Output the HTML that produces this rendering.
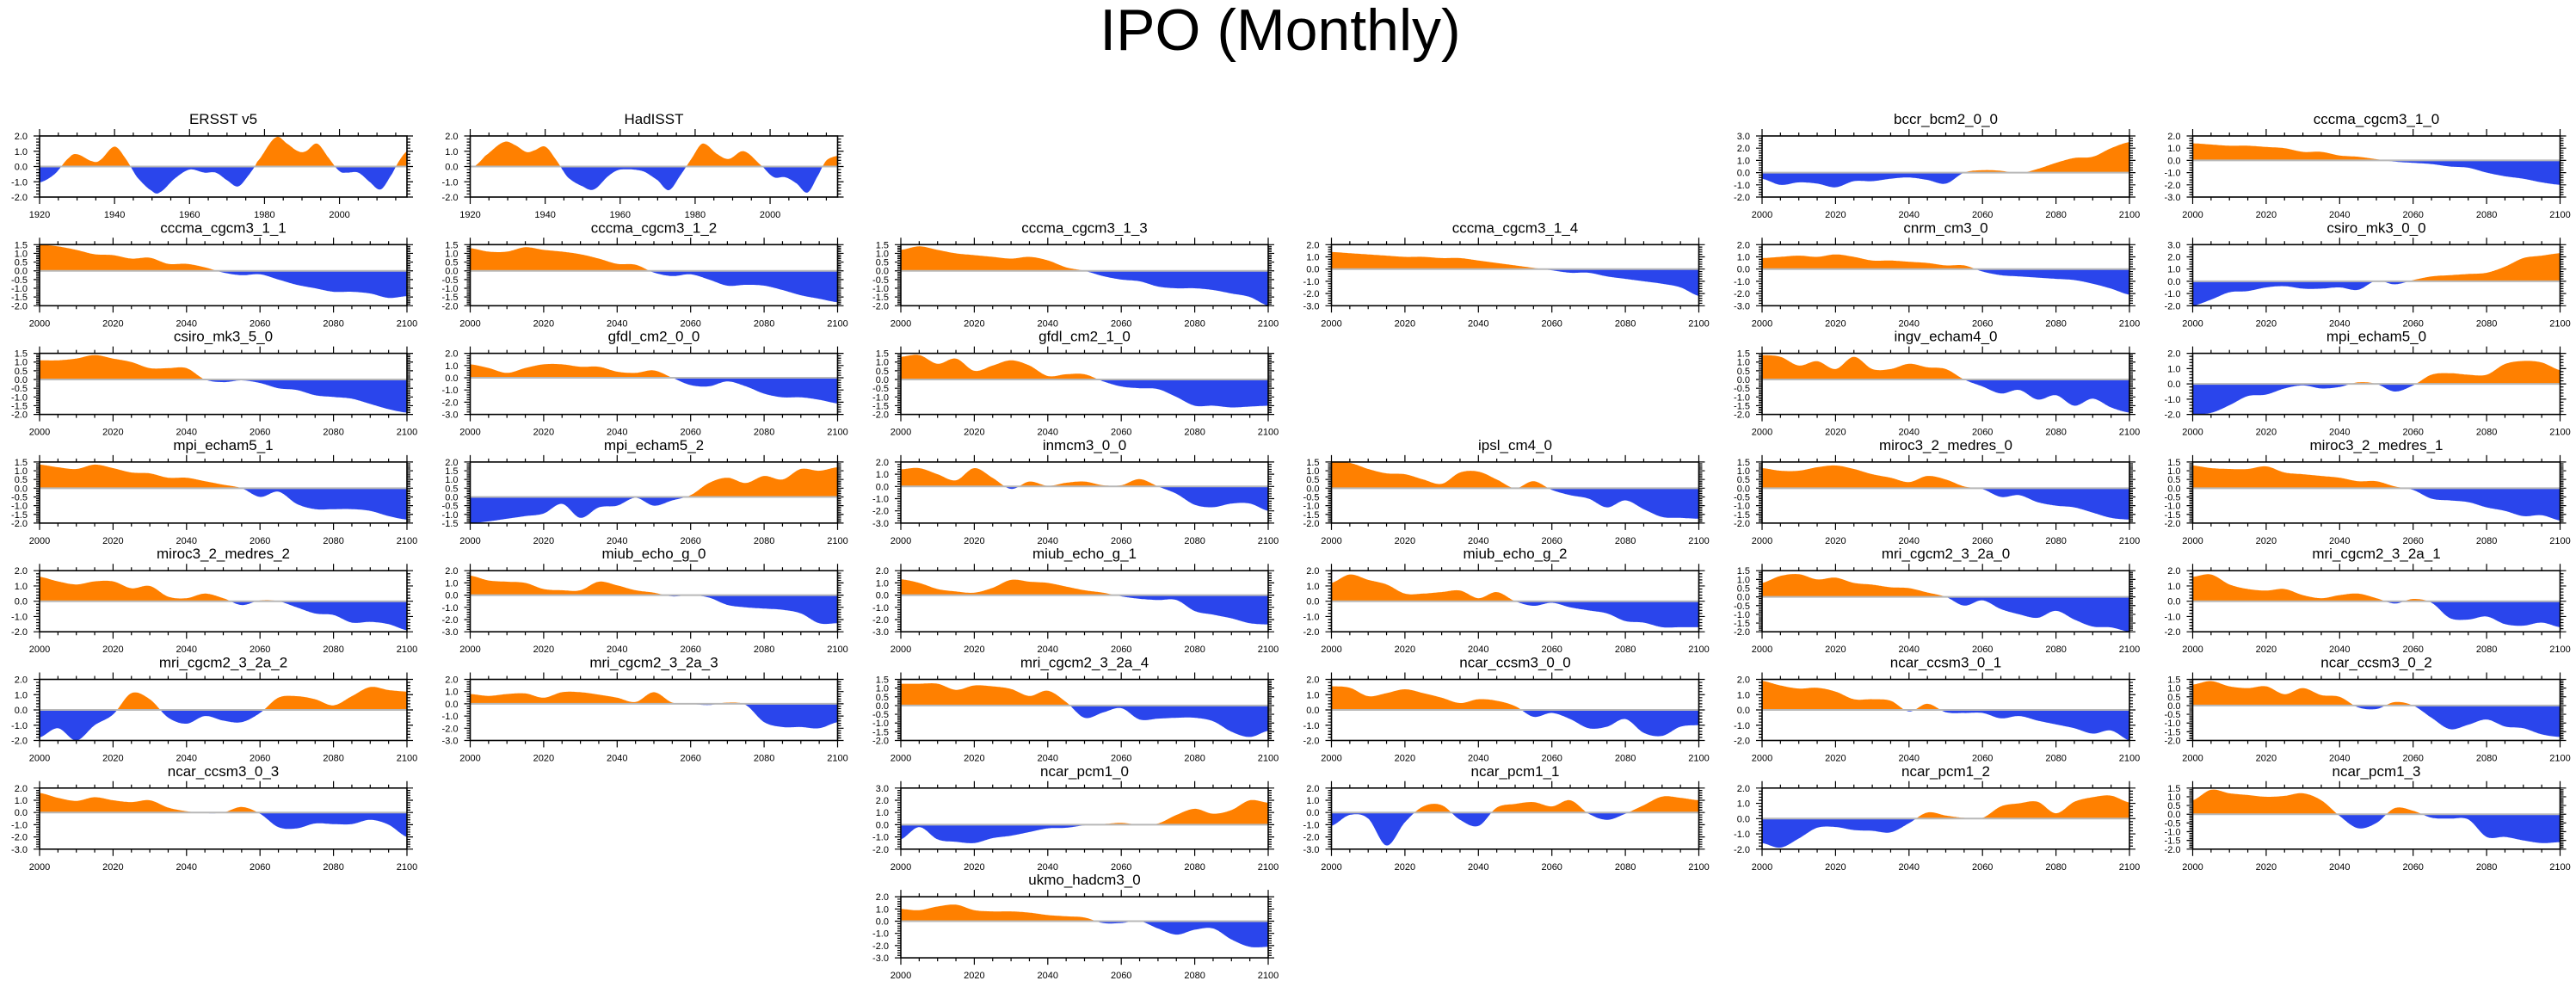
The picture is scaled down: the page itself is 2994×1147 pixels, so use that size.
<!DOCTYPE html>
<html><head><meta charset="utf-8"><title>IPO (Monthly)</title>
<style>
html,body{margin:0;padding:0;background:#fff;}
svg{display:block;}
text{font-family:"Liberation Sans",Arial,sans-serif;fill:#000;}
</style></head>
<body>
<svg id="chart" width="2994" height="1147" viewBox="0 0 2994 1147" xmlns="http://www.w3.org/2000/svg">
<rect x="0" y="0" width="2994" height="1147" fill="#fff"/>
<text x="1488" y="58" font-size="68" text-anchor="middle">IPO (Monthly)</text>
</svg>
<script>
const YEARS = [2000,2005,2010,2015,2020,2025,2030,2035,2040,2045,2050,2055,2060,2065,2070,2075,2080,2085,2090,2095,2100];
const ERSST_YEARS = [1920,1924,1928,1930,1934,1936,1940,1943,1946,1950,1952,1956,1960,1964,1967,1970,1973,1976,1978,1983,1986,1989,1991,1994,1997,2000,2002,2005,2008,2011,2014,2016,2018];
const ERSST_VALUES = [-1.05,-0.5,0.6,0.8,0.35,0.4,1.3,0.5,-0.7,-1.6,-1.7,-0.8,-0.2,-0.4,-0.4,-0.9,-1.3,-0.5,0.3,1.9,1.5,1.0,1.0,1.5,0.6,-0.3,-0.4,-0.4,-1.0,-1.5,-0.5,0.4,1.0];
const HADISST_YEARS = [1921,1924,1929,1932,1935,1937,1940,1943,1946,1950,1953,1957,1960,1966,1970,1973,1976,1979,1982,1986,1989,1993,1998,2001,2004,2007,2010,2013,2015,2018];
const HADISST_VALUES = [0.0,0.7,1.6,1.4,0.95,1.05,1.3,0.4,-0.7,-1.3,-1.5,-0.6,-0.2,-0.3,-0.9,-1.55,-0.6,0.5,1.5,0.8,0.5,1.0,0.0,-0.7,-0.7,-1.1,-1.7,-0.5,0.4,0.7];
const v_bccr_bcm2_0_0 = [-0.5,-1.0,-0.8,-0.9,-1.2,-0.7,-0.7,-0.5,-0.4,-0.6,-0.9,0.0,0.2,0.15,-0.05,0.3,0.8,1.2,1.3,2.0,2.5];
const v_cccma_cgcm3_1_0 = [1.4,1.3,1.2,1.2,1.1,1.0,0.7,0.7,0.4,0.3,0.1,-0.1,-0.2,-0.3,-0.5,-0.6,-1.0,-1.3,-1.5,-1.8,-2.0];
const v_cccma_cgcm3_1_1 = [1.5,1.4,1.2,0.95,0.9,0.7,0.75,0.4,0.4,0.2,-0.1,-0.25,-0.2,-0.5,-0.8,-1.0,-1.2,-1.2,-1.3,-1.55,-1.45];
const v_cccma_cgcm3_1_2 = [1.3,1.1,1.1,1.35,1.2,1.1,0.95,0.7,0.4,0.35,-0.1,-0.3,-0.2,-0.5,-0.85,-0.8,-0.85,-1.1,-1.4,-1.6,-1.8];
const v_cccma_cgcm3_1_3 = [1.2,1.4,1.2,1.0,0.9,0.8,0.7,0.8,0.6,0.2,0.0,-0.3,-0.5,-0.6,-0.9,-1.0,-1.0,-1.1,-1.3,-1.5,-2.0];
const v_cccma_cgcm3_1_4 = [1.4,1.3,1.2,1.1,1.0,1.0,0.9,0.9,0.7,0.5,0.3,0.1,-0.1,-0.3,-0.3,-0.6,-0.8,-1.0,-1.2,-1.5,-2.2];
const v_cnrm_cm3_0 = [0.9,1.0,1.1,1.0,1.2,1.0,0.7,0.7,0.6,0.5,0.3,0.3,-0.2,-0.5,-0.6,-0.7,-0.8,-0.9,-1.2,-1.6,-2.1];
const v_csiro_mk3_0_0 = [-2.0,-1.5,-0.9,-0.8,-0.5,-0.4,-0.6,-0.6,-0.5,-0.7,0.05,-0.25,0.1,0.4,0.5,0.6,0.7,1.2,1.9,2.1,2.3];
const v_csiro_mk3_5_0 = [1.1,1.1,1.2,1.4,1.2,1.0,0.65,0.65,0.65,0.0,-0.15,-0.05,-0.2,-0.5,-0.6,-0.9,-1.0,-1.1,-1.4,-1.7,-1.9];
const v_gfdl_cm2_0_0 = [1.1,0.8,0.4,0.8,1.1,1.1,0.9,0.9,0.5,0.4,0.6,0.0,-0.6,-0.7,-0.3,-0.7,-1.3,-1.6,-1.6,-1.8,-2.1];
const v_gfdl_cm2_1_0 = [1.3,1.4,0.9,1.2,0.5,0.8,1.1,0.8,0.2,0.3,0.3,-0.1,-0.4,-0.5,-0.55,-1.0,-1.5,-1.5,-1.6,-1.55,-1.5];
const v_ingv_echam4_0 = [1.4,1.3,0.8,1.05,0.6,1.3,0.6,0.6,0.9,0.7,0.6,0.0,-0.4,-0.8,-0.6,-1.15,-0.9,-1.5,-1.1,-1.6,-1.9];
const v_mpi_echam5_0 = [-2.0,-1.9,-1.4,-0.8,-0.7,-0.3,-0.1,-0.3,-0.2,0.1,0.0,-0.5,-0.1,0.6,0.7,0.6,0.6,1.3,1.5,1.4,0.9];
const v_mpi_echam5_1 = [1.35,1.2,1.1,1.35,1.15,0.9,0.85,0.6,0.6,0.4,0.2,0.0,-0.5,-0.2,-0.9,-1.2,-1.2,-1.2,-1.3,-1.6,-1.8];
const v_mpi_echam5_2 = [-1.5,-1.4,-1.25,-1.1,-0.95,-0.4,-1.2,-0.6,-0.5,-0.05,-0.5,-0.2,0.1,0.8,1.1,0.8,1.2,1.0,1.6,1.5,1.7];
const v_inmcm3_0_0 = [1.4,1.5,1.0,0.5,1.5,0.7,-0.2,0.4,0.05,0.3,0.4,0.1,0.1,0.6,0.0,-0.6,-1.5,-1.7,-1.4,-1.4,-2.0];
const v_ipsl_cm4_0 = [1.5,1.45,1.1,0.85,0.8,0.5,0.25,0.9,0.95,0.5,0.0,0.4,-0.1,-0.4,-0.6,-1.1,-0.7,-1.2,-1.65,-1.7,-1.75];
const v_miroc3_2_medres_0 = [1.15,1.0,1.0,1.2,1.3,1.1,0.8,0.6,0.35,0.7,0.5,0.1,-0.05,-0.5,-0.4,-0.8,-1.0,-1.1,-1.4,-1.7,-1.8];
const v_miroc3_2_medres_1 = [1.3,1.15,1.1,1.1,1.25,0.9,0.8,0.7,0.6,0.4,0.4,0.1,-0.1,-0.6,-0.7,-0.8,-1.1,-1.3,-1.6,-1.55,-1.85];
const v_miroc3_2_medres_2 = [1.6,1.3,1.1,1.3,1.3,0.85,1.0,0.3,0.2,0.5,0.2,-0.25,0.05,0.0,-0.4,-0.8,-0.9,-1.4,-1.35,-1.5,-1.9];
const v_miub_echo_g_0 = [1.6,1.2,1.1,1.0,0.5,0.4,0.4,1.1,0.8,0.4,0.2,-0.1,0.0,-0.2,-0.8,-1.0,-1.1,-1.2,-1.5,-2.3,-2.3];
const v_miub_echo_g_1 = [1.3,1.0,0.5,0.3,0.2,0.6,1.25,1.1,1.0,0.7,0.4,0.2,-0.1,-0.3,-0.4,-0.4,-1.3,-1.6,-1.9,-2.3,-2.4];
const v_miub_echo_g_2 = [1.2,1.75,1.4,1.1,0.5,0.5,0.6,0.7,0.2,0.6,0.0,-0.3,-0.1,-0.4,-0.6,-0.8,-1.3,-1.4,-1.7,-1.7,-1.7];
const v_mri_cgcm2_3_2a_0 = [0.8,1.2,1.3,1.0,1.1,0.8,0.7,0.55,0.5,0.25,0.0,-0.5,-0.2,-0.7,-1.0,-1.2,-0.8,-1.3,-1.7,-1.75,-2.0];
const v_mri_cgcm2_3_2a_1 = [1.6,1.75,1.1,0.8,0.7,0.8,0.4,0.2,0.4,0.5,0.2,-0.15,0.15,-0.1,-1.1,-1.2,-1.0,-1.5,-1.6,-1.4,-1.7];
const v_mri_cgcm2_3_2a_2 = [-1.8,-1.2,-2.0,-1.0,-0.3,1.1,0.7,-0.5,-0.9,-0.4,-0.7,-0.8,-0.2,0.8,0.9,0.7,0.3,0.9,1.5,1.3,1.2];
const v_mri_cgcm2_3_2a_3 = [0.8,0.65,0.8,0.85,0.5,0.95,0.95,0.75,0.5,0.15,0.95,0.1,0.0,-0.1,0.1,-0.1,-1.5,-1.9,-1.9,-2.0,-1.5];
const v_mri_cgcm2_3_2a_4 = [1.25,1.25,1.25,0.9,1.15,1.1,0.95,0.55,0.85,0.2,-0.7,-0.4,-0.15,-0.8,-0.75,-0.7,-0.7,-0.9,-1.5,-1.8,-1.45];
const v_ncar_ccsm3_0_0 = [1.55,1.45,0.9,1.1,1.35,1.1,0.8,0.45,0.7,0.6,0.25,-0.45,-0.2,-0.6,-1.2,-1.1,-0.6,-1.5,-1.7,-1.1,-1.0];
const v_ncar_ccsm3_0_1 = [1.9,1.6,1.4,1.45,1.2,0.7,0.7,0.6,-0.1,0.4,-0.15,-0.2,-0.2,-0.55,-0.4,-0.7,-0.95,-1.2,-1.55,-1.35,-2.0];
const v_ncar_ccsm3_0_2 = [1.2,1.4,1.1,1.0,1.1,0.65,1.0,0.6,0.5,-0.1,-0.2,0.2,0.0,-0.7,-1.35,-1.1,-0.8,-1.2,-1.3,-1.65,-1.8];
const v_ncar_ccsm3_0_3 = [1.6,1.2,0.95,1.25,1.0,0.85,1.0,0.4,0.1,-0.05,0.0,0.45,-0.1,-1.2,-1.3,-0.9,-0.95,-0.95,-0.6,-1.0,-2.0];
const v_ncar_pcm1_0 = [-1.2,-0.2,-1.2,-1.4,-1.5,-1.1,-0.9,-0.6,-0.3,-0.25,-0.05,0.05,0.15,0.0,0.1,0.8,1.3,0.9,1.2,2.0,1.8];
const v_ncar_pcm1_1 = [-1.1,-0.2,-0.5,-2.7,-0.8,0.5,0.6,-0.6,-1.1,0.4,0.7,0.85,0.5,1.0,-0.1,-0.6,-0.1,0.6,1.3,1.2,1.0];
const v_ncar_pcm1_2 = [-1.6,-1.9,-1.3,-0.6,-0.55,-0.75,-0.8,-0.9,-0.3,0.4,0.2,0.05,0.05,0.8,1.0,1.1,0.35,1.1,1.4,1.5,1.05];
const v_ncar_pcm1_3 = [0.8,1.4,1.2,1.1,1.0,1.05,1.2,0.8,-0.1,-0.8,-0.5,0.35,0.2,-0.2,-0.25,-0.3,-1.3,-1.3,-1.5,-1.65,-1.6];
const v_ukmo_hadcm3_0 = [1.0,0.9,1.2,1.35,0.9,0.8,0.8,0.7,0.5,0.4,0.3,-0.15,-0.15,0.0,-0.6,-1.1,-0.7,-0.6,-1.5,-2.1,-2.1];

const panels = [
 ["ERSST v5",0,0,-2,2,1,ERSST_YEARS,ERSST_VALUES,1920,2018],
 ["HadISST",1,0,-2,2,1,HADISST_YEARS,HADISST_VALUES,1920,2018],
 ["bccr_bcm2_0_0",4,0,-2,3,1,YEARS,v_bccr_bcm2_0_0],
 ["cccma_cgcm3_1_0",5,0,-3,2,1,YEARS,v_cccma_cgcm3_1_0],
 ["cccma_cgcm3_1_1",0,1,-2,1.5,0.5,YEARS,v_cccma_cgcm3_1_1],
 ["cccma_cgcm3_1_2",1,1,-2,1.5,0.5,YEARS,v_cccma_cgcm3_1_2],
 ["cccma_cgcm3_1_3",2,1,-2,1.5,0.5,YEARS,v_cccma_cgcm3_1_3],
 ["cccma_cgcm3_1_4",3,1,-3,2,1,YEARS,v_cccma_cgcm3_1_4],
 ["cnrm_cm3_0",4,1,-3,2,1,YEARS,v_cnrm_cm3_0],
 ["csiro_mk3_0_0",5,1,-2,3,1,YEARS,v_csiro_mk3_0_0],
 ["csiro_mk3_5_0",0,2,-2,1.5,0.5,YEARS,v_csiro_mk3_5_0],
 ["gfdl_cm2_0_0",1,2,-3,2,1,YEARS,v_gfdl_cm2_0_0],
 ["gfdl_cm2_1_0",2,2,-2,1.5,0.5,YEARS,v_gfdl_cm2_1_0],
 ["ingv_echam4_0",4,2,-2,1.5,0.5,YEARS,v_ingv_echam4_0],
 ["mpi_echam5_0",5,2,-2,2,1,YEARS,v_mpi_echam5_0],
 ["mpi_echam5_1",0,3,-2,1.5,0.5,YEARS,v_mpi_echam5_1],
 ["mpi_echam5_2",1,3,-1.5,2,0.5,YEARS,v_mpi_echam5_2],
 ["inmcm3_0_0",2,3,-3,2,1,YEARS,v_inmcm3_0_0],
 ["ipsl_cm4_0",3,3,-2,1.5,0.5,YEARS,v_ipsl_cm4_0],
 ["miroc3_2_medres_0",4,3,-2,1.5,0.5,YEARS,v_miroc3_2_medres_0],
 ["miroc3_2_medres_1",5,3,-2,1.5,0.5,YEARS,v_miroc3_2_medres_1],
 ["miroc3_2_medres_2",0,4,-2,2,1,YEARS,v_miroc3_2_medres_2],
 ["miub_echo_g_0",1,4,-3,2,1,YEARS,v_miub_echo_g_0],
 ["miub_echo_g_1",2,4,-3,2,1,YEARS,v_miub_echo_g_1],
 ["miub_echo_g_2",3,4,-2,2,1,YEARS,v_miub_echo_g_2],
 ["mri_cgcm2_3_2a_0",4,4,-2,1.5,0.5,YEARS,v_mri_cgcm2_3_2a_0],
 ["mri_cgcm2_3_2a_1",5,4,-2,2,1,YEARS,v_mri_cgcm2_3_2a_1],
 ["mri_cgcm2_3_2a_2",0,5,-2,2,1,YEARS,v_mri_cgcm2_3_2a_2],
 ["mri_cgcm2_3_2a_3",1,5,-3,2,1,YEARS,v_mri_cgcm2_3_2a_3],
 ["mri_cgcm2_3_2a_4",2,5,-2,1.5,0.5,YEARS,v_mri_cgcm2_3_2a_4],
 ["ncar_ccsm3_0_0",3,5,-2,2,1,YEARS,v_ncar_ccsm3_0_0],
 ["ncar_ccsm3_0_1",4,5,-2,2,1,YEARS,v_ncar_ccsm3_0_1],
 ["ncar_ccsm3_0_2",5,5,-2,1.5,0.5,YEARS,v_ncar_ccsm3_0_2],
 ["ncar_ccsm3_0_3",0,6,-3,2,1,YEARS,v_ncar_ccsm3_0_3],
 ["ncar_pcm1_0",2,6,-2,3,1,YEARS,v_ncar_pcm1_0],
 ["ncar_pcm1_1",3,6,-3,2,1,YEARS,v_ncar_pcm1_1],
 ["ncar_pcm1_2",4,6,-2,2,1,YEARS,v_ncar_pcm1_2],
 ["ncar_pcm1_3",5,6,-2,1.5,0.5,YEARS,v_ncar_pcm1_3],
 ["ukmo_hadcm3_0",2,7,-3,2,1,YEARS,v_ukmo_hadcm3_0]
];

const NS = "http://www.w3.org/2000/svg";
const svg = document.getElementById("chart");
const COL0 = 46, COLP = 500.5, PW = 427, ROW0 = 158, ROWP = 126.3, PH = 71;

function mk(tag, attrs, parent) {
  const e = document.createElementNS(NS, tag);
  for (const k in attrs) e.setAttribute(k, attrs[k]);
  parent.appendChild(e);
  return e;
}
function spline(xs, ys, x) {
  let i = 0;
  while (i < xs.length - 2 && x > xs[i + 1]) i++;
  const x0 = xs[i], x1 = xs[i + 1];
  const t = (x - x0) / (x1 - x0);
  const p0 = ys[Math.max(i - 1, 0)], p1 = ys[i], p2 = ys[i + 1], p3 = ys[Math.min(i + 2, ys.length - 1)];
  const t2 = t * t, t3 = t2 * t;
  return 0.5 * ((2 * p1) + (-p0 + p2) * t + (2 * p0 - 5 * p1 + 4 * p2 - p3) * t2 + (-p0 + 3 * p1 - 3 * p2 + p3) * t3);
}

panels.forEach(p => {
  const [name, col, row, ymin, ymax, step, xs, vals] = p;
  const xa = p[8] !== undefined ? p[8] : 2000, xb = p[9] !== undefined ? p[9] : 2100;
  const L = COL0 + col * COLP, T = ROW0 + row * ROWP, R = L + PW, B = T + PH;
  const xScale = v => L + (v - xa) / (xb - xa) * PW;
  const yScale = v => B - (v - ymin) / (ymax - ymin) * PH;
  const g = mk("g", {}, svg);
  
  

  const x0 = xs[0], x1 = xs[xs.length - 1];
  const N = 400;
  const z = yScale(0);
  const pts = [];
  for (let k = 0; k <= N; k++) {
    const xv = x0 + (x1 - x0) * k / N;
    let yv = spline(xs, vals, xv);
    yv = Math.max(ymin, Math.min(ymax, yv));
    pts.push([xScale(xv), yv]);
  }
  let pos = "M" + pts[0][0].toFixed(1) + "," + z.toFixed(1);
  let neg = pos;
  pts.forEach(([px, yv]) => {
    pos += "L" + px.toFixed(1) + "," + yScale(Math.max(yv, 0)).toFixed(1);
    neg += "L" + px.toFixed(1) + "," + yScale(Math.min(yv, 0)).toFixed(1);
  });
  const endX = pts[pts.length - 1][0].toFixed(1);
  pos += "L" + endX + "," + z.toFixed(1) + "Z";
  neg += "L" + endX + "," + z.toFixed(1) + "Z";
  const pa = mk("path", {d: pos, fill: "#ff8000", stroke: "none"}, g);
  
  
  const na = mk("path", {d: neg, fill: "#2a45ec", stroke: "none"}, g);
  
  

  const zl = mk("line", {x1: L, x2: R, y1: z, y2: z, stroke: "#b8b8b8", "stroke-width": 2}, g);
  
  

  const fr = mk("rect", {x: L, y: T, width: PW, height: PH, fill: "none", stroke: "#000", "stroke-width": 1.6}, g);
  
  

  const tt = mk("text", {x: L + PW / 2, y: T - 14, "font-size": 17, "text-anchor": "middle"}, g);
  tt.textContent = name;
  
  

  let ticks = "";
  const firstMinor = Math.ceil(xa / 5) * 5;
  for (let yr = firstMinor; yr <= xb; yr += 5) {
    const px = xScale(yr);
    const major = yr % 20 === 0;
    const len = major ? 8 : 4;
    ticks += `M${px},${B}v${len}M${px},${T}v${-len}`;
    if (major) {
      const lb = mk("text", {x: px, y: B + 24, "font-size": 11, "text-anchor": "middle"}, g);
      lb.textContent = String(yr);
      
      
    }
  }
  const nMaj = Math.round((ymax - ymin) / step);
  for (let k = 0; k <= nMaj; k++) {
    const v = ymin + k * step;
    const py = yScale(v);
    ticks += `M${L},${py}h-7M${R},${py}h7`;
    const lb = mk("text", {x: L - 14, y: py + 4, "font-size": 11, "text-anchor": "end"}, g);
    lb.textContent = v.toFixed(1);
    
    
    if (k < nMaj) {
      for (let m = 1; m < 5; m++) {
        const pm = yScale(v + step * m / 5);
        ticks += `M${L},${pm}h-4M${R},${pm}h4`;
      }
    }
  }
  const tk = mk("path", {d: ticks, stroke: "#000", "stroke-width": 1.2, fill: "none"}, g);
  
  
});
</script>
</body></html>
